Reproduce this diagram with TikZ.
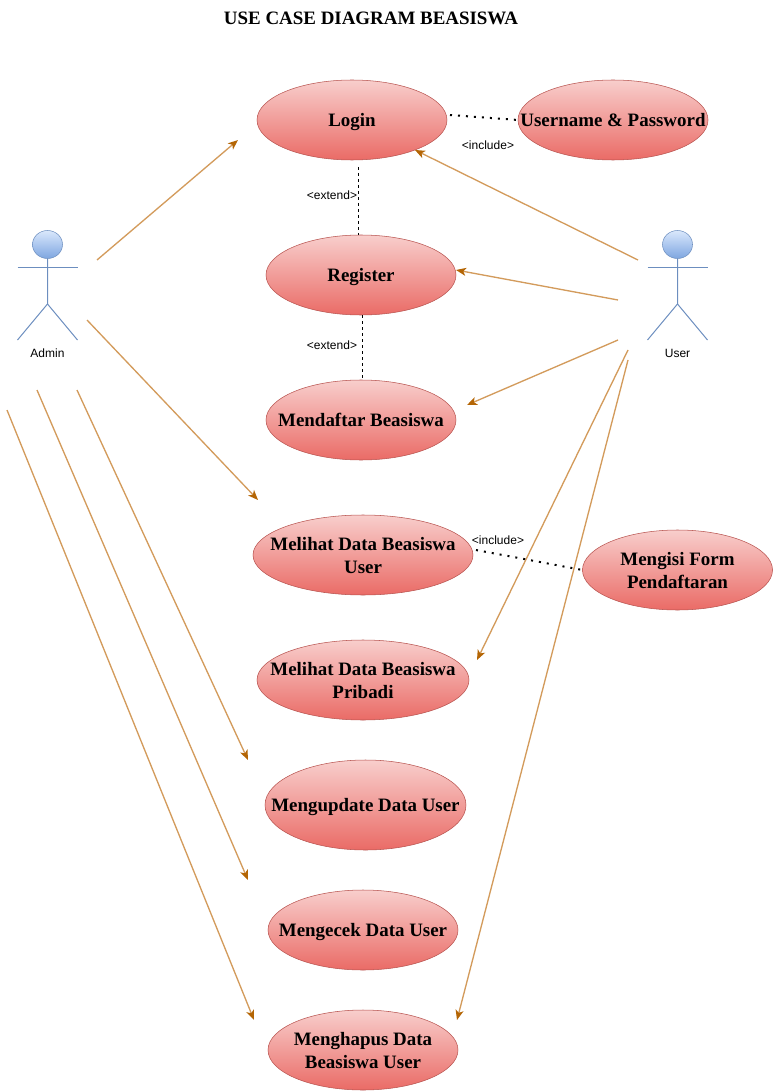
\documentclass[tikz,border=0pt]{standalone}
\usepackage{fontspec}
\setmainfont{Liberation Serif}
\newfontfamily\labelfont{Liberation Sans}
\usetikzlibrary{shapes.geometric,arrows.meta}
\definecolor{caseTop}{HTML}{F8CECC}
\definecolor{caseBottom}{HTML}{EA6B66}
\definecolor{caseLine}{HTML}{B85450}
\definecolor{actorTop}{HTML}{DAE8FC}
\definecolor{actorBottom}{HTML}{7EA6E0}
\definecolor{actorLine}{HTML}{6C8EBF}
\definecolor{assocLine}{HTML}{D39B5C}
\definecolor{assocTip}{HTML}{B46504}
\newcommand{\caselabel}[1]{\makebox[0pt]{\raisebox{-1.5pt}[0.8em][0.3em]{#1}}}

\begin{document}
\begin{tikzpicture}[x=0.75pt, y=-0.75pt,
    usecase/.style={ellipse, draw=caseLine, top color=caseTop, bottom color=caseBottom,
        minimum width=190*0.75pt, minimum height=80*0.75pt, inner sep=0pt, outer sep=0pt,
        align=center, font=\fontsize{14.2}{17.25}\selectfont\bfseries},
    actorhead/.style={ellipse, draw=actorLine, top color=actorTop, bottom color=actorBottom,
        minimum width=30*0.75pt, minimum height=28*0.75pt, inner sep=0pt, outer sep=0pt},
    actorbody/.style={draw=actorLine, line width=0.75pt},
    smalltext/.style={font=\labelfont\fontsize{9}{11}\selectfont, inner sep=0pt},
    usearrow/.style={draw=assocLine, line width=1pt, -{Stealth[length=7.5pt, width=6pt, inset=2pt, color=assocTip]}},
    includeline/.style={draw=black, line width=1.5pt, dash pattern=on 1.5pt off 4.5pt},
    extendline/.style={draw=black, line width=0.75pt, dash pattern=on 2.25pt off 2.25pt}]
        \useasboundingbox (0,0) rectangle (774,1091);
        \node[font=\fontsize{14.2}{17}\selectfont\bfseries, inner sep=0pt] (title) at (371,18) {USE CASE DIAGRAM BEASISWA};

        \node[usecase] (login) at (352,120) {\caselabel{Login}};
        \node[usecase] (password) at (613,120) {\caselabel{Username \& Password}};
        \node[usecase] (register) at (361,275) {\caselabel{Register}};
        \node[usecase] (mendaftar) at (361,420) {\caselabel{Mendaftar Beasiswa}};
        \node[usecase, minimum width=220*0.75pt] (lihatuser) at (363,555) {\caselabel{Melihat Data Beasiswa}\\\caselabel{User}};
        \node[usecase] (mengisi) at (677.5,570) {\caselabel{Mengisi Form}\\\caselabel{Pendaftaran}};
        \node[usecase, minimum width=212*0.75pt] (lihatpribadi) at (363,680) {\caselabel{Melihat Data Beasiswa}\\\caselabel{Pribadi}};
        \node[usecase, minimum width=201*0.75pt, minimum height=90*0.75pt] (update) at (365.5,805) {\caselabel{Mengupdate Data User}};
        \node[usecase] (cek) at (363,930) {\caselabel{Mengecek Data User}};
        \node[usecase] (hapus) at (363,1050) {\caselabel{Menghapus Data}\\\caselabel{Beasiswa User}};

        \node[actorhead] (adminhead) at (47.5,244.5) {};
        \draw[actorbody] (adminhead.south) -- (47.5,304) -- (17.5,340);
        \draw[actorbody] (47.5,304) -- (77.5,340);
        \draw[actorbody] (17.5,267) -- (77.5,267);
        \node[smalltext] (admin) at (47.5,353.5) {Admin};

        \node[actorhead] (userhead) at (677.5,244.5) {};
        \draw[actorbody] (userhead.south) -- (677.5,304) -- (647.5,340);
        \draw[actorbody] (677.5,304) -- (707.5,340);
        \draw[actorbody] (647.5,267) -- (707.5,267);
        \node[smalltext] (user) at (677.5,353.5) {User};

        \coordinate (admina) at (97,260);
        \coordinate (adminb) at (87,320);
        \coordinate (adminc) at (77,390);
        \coordinate (admind) at (37,390);
        \coordinate (admine) at (7,410);
        \coordinate (usera) at (638,260);
        \coordinate (userb) at (618,300);
        \coordinate (userc) at (618,340);
        \coordinate (userd) at (628,350);
        \coordinate (usere) at (628,360);

        \draw[usearrow] (admina) -- ([shift={(-114,20)}]login.center);
        \draw[usearrow] (adminb) -- ([shift={(-105,-55)}]lihatuser.center);
        \draw[usearrow] (adminc) -- ([shift={(-117.5,-45)}]update.center);
        \draw[usearrow] (admind) -- ([shift={(-115,-50)}]cek.center);
        \draw[usearrow] (admine) -- ([shift={(-109,-30)}]hapus.center);
        \draw[usearrow] (usera) -- ([shift={(63,30)}]login.center);
        \draw[usearrow] (userb) -- ([shift={(0,-5)}]register.east);
        \draw[usearrow] (userc) -- ([shift={(106,-15)}]mendaftar.center);
        \draw[usearrow] (userd) -- ([shift={(114,-20)}]lihatpribadi.center);
        \draw[usearrow] (usere) -- ([shift={(94,-30)}]hapus.center);

        \draw[includeline] ([shift={(3,-5)}]login.east) -- (password.west);
        \draw[includeline] ([shift={(3,-5)}]lihatuser.east) -- (mengisi.west);
        \draw[extendline] ([shift={(6,7)}]login.south) -- ([shift={(-3,0)}]register.north);
        \draw[extendline] ([shift={(1,0)}]register.south) -- ([shift={(1,0)}]mendaftar.north);

        \node[smalltext] (includea) at (488,145) {<include>};
        \node[smalltext] (includeb) at (498,540) {<include>};
        \node[smalltext] (extenda) at (332,195) {<extend>};
        \node[smalltext] (extendb) at (332,345) {<extend>};
    \end{tikzpicture}
\end{document}
